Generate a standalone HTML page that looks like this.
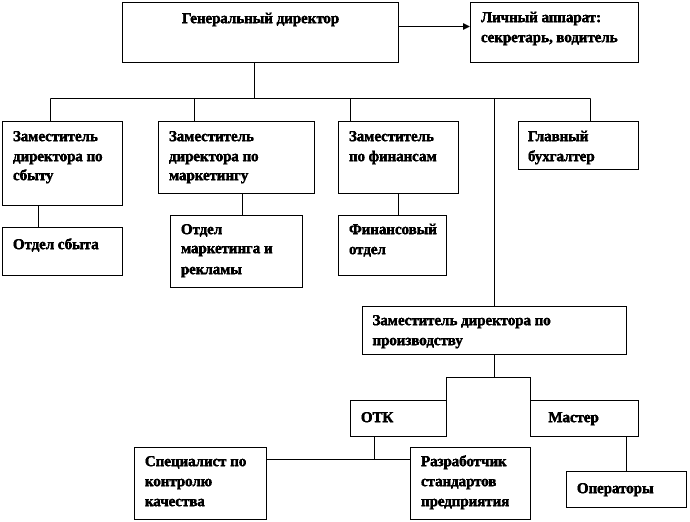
<!DOCTYPE html>
<html lang="ru"><head><meta charset="utf-8"><title>Оргструктура</title>
<style>
html,body{margin:0;padding:0;background:#fff}
svg{display:block}
text{font-family:"Liberation Serif",serif;font-weight:700;font-size:14.9px;fill:#000;stroke:#000;stroke-width:.4px;text-rendering:geometricPrecision}
.t{filter:url(#crisp)}
rect{fill:#fff;stroke:#000;stroke-width:1}
path{fill:none;stroke:#000;stroke-width:1}
</style></head><body>
<svg width="690" height="522" viewBox="0 0 690 522" xmlns="http://www.w3.org/2000/svg">
<defs><filter id="crisp" x="0" y="0" width="690" height="522" filterUnits="userSpaceOnUse" color-interpolation-filters="sRGB">
<feComponentTransfer><feFuncA type="linear" slope="6" intercept="-1.5"/></feComponentTransfer></filter></defs>
<rect width="690" height="522" style="stroke:none"/>
<path d="M254.5 60V98.5M50.5 98.5H590.5M50.5 98.5V122M194.5 98.5V122M350.5 98.5V122M590.5 98.5V122M494.5 98.5V307M38.5 204V228M242.5 193V216M398.5 192V216M494.5 354V377.5M374.5 436V460M266 459.5H411M626.5 436V472M398 26.5H464"/>
<polygon points="463,23 470,26.5 463,30" fill="#000"/>
<rect x="122.5" y="2.5" width="276" height="60"/>
<rect x="470.5" y="2.5" width="168" height="60"/>
<rect x="2.5" y="121.5" width="120" height="84"/>
<rect x="158.5" y="121.5" width="156" height="72"/>
<rect x="338.5" y="121.5" width="120" height="72"/>
<rect x="518.5" y="121.5" width="120" height="48"/>
<rect x="2.5" y="227.5" width="120" height="48"/>
<rect x="170.5" y="215.5" width="132" height="72"/>
<rect x="338.5" y="215.5" width="108" height="60"/>
<rect x="362.5" y="306.5" width="264" height="48"/>
<path d="M446.5 400.5V377.5H530.5V400.5"/>
<rect x="350.5" y="400.5" width="96" height="36"/>
<rect x="530.5" y="400.5" width="108" height="36"/>
<rect x="134.5" y="447.5" width="132" height="72"/>
<rect x="410.5" y="447.5" width="120" height="72"/>
<rect x="566.5" y="471.5" width="120" height="36"/>
<g class="t">
<text x="182" y="23">Генеральный директор</text>
<text x="481" y="22">Личный аппарат:</text>
<text x="481" y="42">секретарь, водитель</text>
<text x="13" y="141">Заместитель</text>
<text x="13" y="161">директора по</text>
<text x="13" y="180">сбыту</text>
<text x="169" y="141">Заместитель</text>
<text x="169" y="161">директора по</text>
<text x="169" y="180">маркетингу</text>
<text x="349" y="141">Заместитель</text>
<text x="349" y="161">по финансам</text>
<text x="528" y="141">Главный</text>
<text x="528" y="161">бухгалтер</text>
<text x="13" y="249">Отдел сбыта</text>
<text x="181" y="234">Отдел</text>
<text x="181" y="253">маркетинга и</text>
<text x="181" y="274">рекламы</text>
<text x="349" y="234">Финансовый</text>
<text x="349" y="254">отдел</text>
<text x="372.5" y="325">Заместитель директора по</text>
<text x="372.5" y="345">производству</text>
<text x="361" y="422">ОТК</text>
<text x="548.5" y="422">Мастер</text>
<text x="145" y="466">Специалист по</text>
<text x="145" y="486">контролю</text>
<text x="145" y="506">качества</text>
<text x="421" y="466">Разработчик</text>
<text x="421" y="486">стандартов</text>
<text x="421" y="506">предприятия</text>
<text x="577" y="493">Операторы</text>
</g>
</svg>
</body></html>
